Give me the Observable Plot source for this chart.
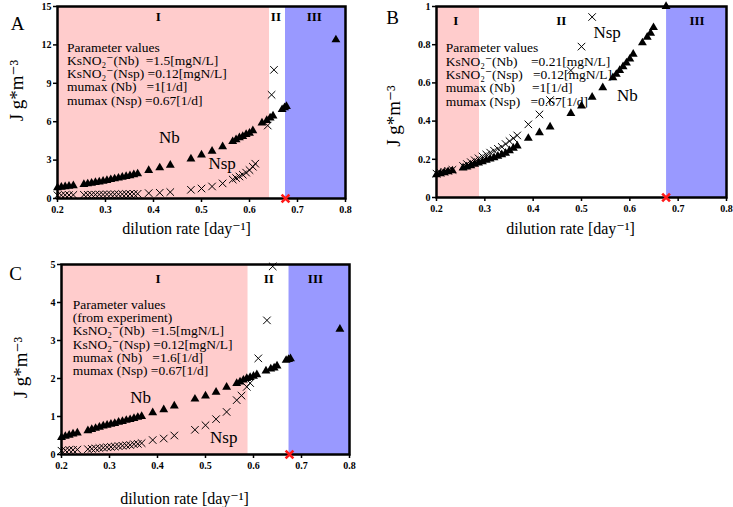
<!DOCTYPE html>
<html><head><meta charset="utf-8">
<script src="https://cdn.jsdelivr.net/npm/d3@7"></script>
<script src="https://cdn.jsdelivr.net/npm/@observablehq/plot@0.6"></script>
<style>
body{margin:0;background:#fff;}
#wrap{position:relative;width:733px;height:507px;overflow:hidden;background:#fff;}
.panel{position:absolute;}
</style></head><body><div id="wrap">
<div class="panel" id="pA" style="left:0;top:0"></div>
<div class="panel" id="pB" style="left:370px;top:0"></div>
<div class="panel" id="pC" style="left:0;top:240px"></div>
</div>
<script>
// ---- data ----
const xTicks = [0.2, 0.3, 0.4, 0.5, 0.6, 0.7, 0.8];

// dilution rates of the simulated steady states
const dNbFull = [0.200,0.208,0.216,0.224,0.233, 0.255,0.263,0.271,0.279,0.287,0.295,0.303,0.311,0.319,0.327,0.335,0.343,0.351,0.359,0.367,
  0.390,0.413,0.435,0.478,0.500,0.522,0.544,
  0.565,0.572,0.579,0.586,0.593,0.600,0.607,
  0.626,0.636,0.643,0.649,
  0.668,0.673,0.677,
  0.780];

// Panel A
const aNb = [0.85,0.88,0.92,0.96,1.00, 1.10,1.15,1.20,1.25,1.30,1.36,1.42,1.48,1.54,1.60,1.66,1.72,1.79,1.86,1.93,
  2.20,2.40,2.60,3.10,3.40,3.70,4.05,
  4.45,4.60,4.75,4.85,5.00,5.10,5.30,
  5.90,6.10,6.30,6.45,
  6.95,7.10,7.20,
  12.4];
const aNspX = [0.200,0.208,0.216,0.224,0.233, 0.255,0.263,0.271,0.279,0.287,0.295,0.303,0.311,0.319,0.327,0.335,0.343,0.351,0.359,0.367,
  0.390,0.413,0.435,0.478,0.500,0.522,0.544,0.565,0.572,0.579,0.586,0.593,0.600,0.607,0.612,0.638,0.646,0.651];
const aNsp = [0.25,0.26,0.27,0.27,0.28, 0.29,0.29,0.30,0.30,0.31,0.31,0.32,0.32,0.33,0.33,0.34,0.35,0.35,0.36,0.37,
  0.42,0.45,0.50,0.68,0.78,0.94,1.18,1.48,1.60,1.72,1.86,2.02,2.22,2.48,2.72,5.70,8.10,10.05];
const aRegions = [{name:"I", from:0.2, to:0.642}, {name:"II", from:0.642, to:0.675}, {name:"III", from:0.675, to:0.8}];
const aRegionLabelX = [0.41, 0.655, 0.735];
const aParams = ["Parameter values",
  "KsNO\u2082\u207B(Nb)\u00a0\u00a0=1.5[mgN/L]",
  "KsNO\u2082\u207B(Nsp)\u00a0=0.12[mgN/L]",
  "mumax (Nb)\u00a0\u00a0\u00a0=1[1/d]",
  "mumax (Nsp)\u00a0=0.67[1/d]"];

// Panel B
const bNbX = [0.200,0.208,0.216,0.224,0.233, 0.255,0.263,0.271,0.279,0.287,0.295,0.303,0.311,0.319,0.327,0.335,0.343,0.351,0.359,0.367,
  0.390,0.413,0.435,0.478,0.500,0.522,0.544,
  0.565,0.572,0.579,0.586,0.593,0.600,0.607,
  0.626,0.636,0.643,0.649,
  0.675];
const bNb = [0.120,0.125,0.130,0.135,0.140, 0.155,0.160,0.167,0.174,0.181,0.188,0.195,0.202,0.209,0.216,0.224,0.232,0.245,0.258,0.270,
  0.31,0.34,0.37,0.44,0.48,0.525,0.575,
  0.627,0.645,0.665,0.685,0.705,0.725,0.75,
  0.81,0.84,0.86,0.89,
  1.0];
const bNspX = [0.200,0.208,0.216,0.224,0.233, 0.255,0.263,0.271,0.279,0.287,0.295,0.303,0.311,0.319,0.327,0.335,0.343,0.351,0.359,0.367,
  0.390,0.413,0.435,0.478,0.500,0.522];
const bNsp = [0.125,0.13,0.135,0.14,0.145, 0.165,0.175,0.185,0.195,0.205,0.215,0.225,0.235,0.245,0.255,0.265,0.28,0.295,0.31,0.325,
  0.383,0.435,0.51,0.665,0.79,0.945];
const bRegions = [{name:"I", from:0.2, to:0.289}, {name:"II", from:0.289, to:0.676}, {name:"III", from:0.676, to:0.8}];
const bRegionLabelX = [0.24, 0.458, 0.739];
const bParams = ["Parameter values",
  "KsNO\u2082\u207B(Nb)\u00a0\u00a0\u00a0\u00a0=0.21[mgN/L]",
  "KsNO\u2082\u207B(Nsp)\u00a0\u00a0\u00a0=0.12[mgN/L]",
  "mumax (Nb)\u00a0\u00a0\u00a0\u00a0\u00a0=1[1/d]",
  "mumax (Nsp)\u00a0\u00a0\u00a0=0.67[1/d]"];

// Panel C
const cNb = [0.45,0.48,0.51,0.54,0.57, 0.63,0.66,0.69,0.72,0.75,0.77,0.80,0.82,0.85,0.87,0.90,0.92,0.95,0.98,1.00,
  1.10,1.18,1.28,1.46,1.54,1.64,1.77,
  1.87,1.91,1.96,2.00,2.03,2.06,2.10,
  2.20,2.25,2.28,2.33,
  2.48,2.50,2.52,
  3.30];
const cNspX = [0.200,0.208,0.216,0.224,0.233, 0.255,0.263,0.271,0.279,0.287,0.295,0.303,0.311,0.319,0.327,0.335,0.343,0.351,0.359,0.367,
  0.390,0.413,0.435,0.478,0.500,0.522,0.544,0.565,0.575,0.586,0.593,0.610,0.628,0.640];
const cNsp = [0.10,0.11,0.12,0.12,0.13, 0.14,0.15,0.16,0.17,0.18,0.19,0.20,0.21,0.22,0.23,0.24,0.25,0.27,0.28,0.30,
  0.38,0.42,0.50,0.65,0.77,0.93,1.12,1.43,1.55,1.78,1.88,2.53,3.53,4.95];
const cRegions = [{name:"I", from:0.2, to:0.589}, {name:"II", from:0.589, to:0.674}, {name:"III", from:0.674, to:0.8}];
const cRegionLabelX = [0.401, 0.632, 0.729];
const cParams = ["Parameter values",
  "(from experiment)",
  "KsNO\u2082\u207B(Nb)\u00a0\u00a0=1.5[mgN/L]",
  "KsNO\u2082\u207B(Nsp)\u00a0=0.12[mgN/L]",
  "mumax (Nb)\u00a0\u00a0\u00a0=1.6[1/d]",
  "mumax (Nsp)\u00a0=0.67[1/d]"];

const washout = 0.675; // critical dilution rate (red cross)

// ---- drawing ----
const regionFill = {"I": "#ffcccc", "II": "#ffffff", "III": "#9999ff"};
const serif = "'Liberation Serif', 'Times New Roman', 'DejaVu Serif', serif";

function zip(xs, ys) { return xs.map((x, i) => ({x, y: ys[i]})); }

function panel(o) {
  return Plot.plot({
    width: o.width, height: o.height,
    marginLeft: o.ml, marginRight: o.mr, marginTop: o.mt, marginBottom: o.mb,
    style: {fontFamily: serif, fontSize: "10.5px", color: "#000", background: "transparent", overflow: "visible"},
    x: {domain: [0.2, 0.8]},
    y: {domain: o.yDomain},
    marks: [
      Plot.rect(o.regions, {x1: "from", x2: "to", fill: d => regionFill[d.name]}),
      Plot.axisX({ticks: xTicks, tickFormat: d3.format(".1f"), tickSize: 4, tickPadding: 3, label: null, strokeWidth: 1.5, fontWeight: "bold", fontSize: 10}),
      Plot.axisY({ticks: o.yTicks, tickFormat: o.yFmt, tickSize: 4, tickPadding: 2, label: null, strokeWidth: 1.5, fontWeight: "bold", fontSize: 10}),
      Plot.frame({stroke: "#000", strokeWidth: 2.5}),
      Plot.dot(o.nsp, {x: "x", y: "y", symbol: "times", r: 3.5, stroke: "#000", strokeWidth: 1}),
      Plot.dot(o.nb, {x: "x", y: "y", symbol: "triangle", r: 3.3, fill: "#000", stroke: null}),
      Plot.dot([{x: washout, y: 0}], {x: "x", y: "y", symbol: "times", r: 3.6, stroke: "#ff1a1a", strokeWidth: 2.6}),
      Plot.text(o.regions.map((r, i) => ({x: o.regionLabelX[i], t: r.name})),
        {x: "x", text: "t", frameAnchor: "top", lineAnchor: "middle", dy: o.regionDy, fontWeight: "bold", fontSize: 13}),
      Plot.text([o.params.join("\n")], {x: () => o.paramPos[0], y: () => o.paramPos[1], text: d => d,
        lineAnchor: "top", textAnchor: "start", fontSize: 13.5, lineHeight: o.lh}),
      Plot.text(["Nb"], {x: () => o.nbLabel[0], y: () => o.nbLabel[1], text: d => d, fontSize: 17}),
      Plot.text(["Nsp"], {x: () => o.nspLabel[0], y: () => o.nspLabel[1], text: d => d, fontSize: 17}),
      Plot.text(["dilution rate [day\u207B\u00B9]"], {frameAnchor: "bottom", lineAnchor: "middle", textAnchor: "middle",
        dx: o.xl[0], dy: o.xl[1], fontSize: 16, text: d => d}),
      Plot.text(["J g*m\u207B\u00B3"], {frameAnchor: "left", lineAnchor: "middle", textAnchor: "middle", rotate: -90,
        dx: o.yl[0], dy: o.yl[1], fontSize: 19, text: d => d}),
      Plot.text([o.letter], {frameAnchor: "top-left", lineAnchor: "middle", textAnchor: "middle",
        dx: o.lt[0], dy: o.lt[1], fontSize: 19, text: d => d})
    ]
  });
}

document.getElementById("pA").append(panel({
  width: 366, height: 240, ml: 57, mr: 21, mt: 6, mb: 42,
  yDomain: [0, 15], yTicks: [0, 3, 6, 9, 12, 15], yFmt: d3.format("d"),
  regions: aRegions, regionLabelX: aRegionLabelX, regionDy: 10,
  nb: zip(dNbFull, aNb), nsp: zip(aNspX, aNsp),
  params: aParams, paramPos: [0.22, 12.16], lh: 0.97,
  nbLabel: [0.433, 4.77], nspLabel: [0.543, 2.71],
  xl: [-15, 30], yl: [-41, -12], lt: [-40, 17], letter: "A"
}));

document.getElementById("pB").append(panel({
  width: 363, height: 240, ml: 66, mr: 7, mt: 6, mb: 43,
  yDomain: [0, 1], yTicks: [0, 0.2, 0.4, 0.6, 0.8, 1], yFmt: d => d === 0 || d === 1 ? String(d) : d3.format(".1f")(d),
  regions: bRegions, regionLabelX: bRegionLabelX, regionDy: 14,
  nb: zip(bNbX, bNb), nsp: zip(bNspX, bNsp),
  params: bParams, paramPos: [0.219, 0.81], lh: 0.99,
  nbLabel: [0.595, 0.534], nspLabel: [0.553, 0.865],
  xl: [-11, 31], yl: [-43, 14], lt: [-44, 11], letter: "B"
}));

document.getElementById("pC").append(panel({
  width: 370, height: 267, ml: 61, mr: 21, mt: 24, mb: 53,
  yDomain: [0, 5], yTicks: [0, 1, 2, 3, 4, 5], yFmt: d3.format("d"),
  regions: cRegions, regionLabelX: cRegionLabelX, regionDy: 14,
  nb: zip(dNbFull, cNb), nsp: zip(cNspX, cNsp),
  params: cParams, paramPos: [0.2236, 4.08], lh: 0.98,
  nbLabel: [0.365, 1.51], nspLabel: [0.538, 0.455],
  xl: [-21, 44], yl: [-41, 8], lt: [-46, 9], letter: "C"
}));
</script>
</body></html>
